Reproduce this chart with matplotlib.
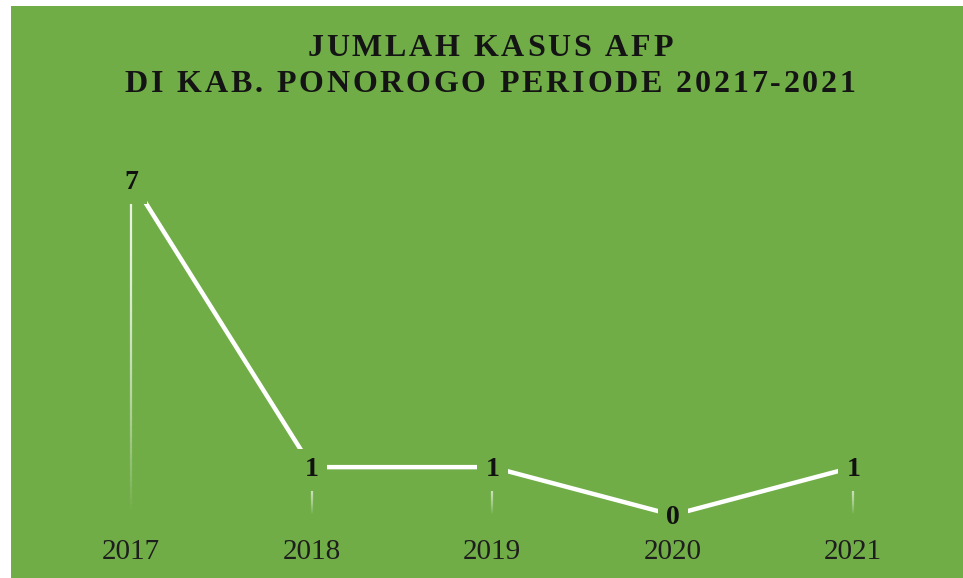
import matplotlib.pyplot as plt
import numpy as np
from matplotlib.collections import LineCollection
from matplotlib.patches import Rectangle

# data
tahun = ['2017', '2018', '2019', '2020', '2021']
kasus = [7, 1, 1, 0, 1]
judul = ['JUMLAH KASUS AFP', 'DI KAB. PONOROGO PERIODE 20217-2021']

hijau = '#70AD47'
serif = ['Liberation Serif', 'DejaVu Serif']
W, H = 963, 578

fig = plt.figure(figsize=(W / 100, H / 100), dpi=100, facecolor='white')
fig.patches.append(Rectangle((11 / W, 0), 1, 572 / H, transform=fig.transFigure,
                             facecolor=hijau, edgecolor='none', zorder=-5))

ax = fig.add_axes([41 / W, 63 / H, 902.5 / W, 335 / H])
ax.set_facecolor('none')
x = np.arange(len(tahun))
ax.set_xlim(-0.5, len(tahun) - 0.5)
ax.set_ylim(0, 7)

# garis bantu vertikal yang memudar ke bawah
n = 60
for xi, v in zip(x, kasus):
    if v <= 0:
        continue
    ys = np.linspace(v, 0, n + 1)
    segs = [[(xi, ys[i]), (xi, ys[i + 1])] for i in range(n)]
    alphas = 0.85 * (1 - np.linspace(0, 1, n) ** 2)
    cols = [(1, 1, 1, a) for a in alphas]
    ax.add_collection(LineCollection(segs, colors=cols, linewidths=1.6, zorder=2))

ax.plot(x, kasus, color='white', lw=3.2, solid_capstyle='butt', zorder=3, clip_on=False)

for xi, v in zip(x, kasus):
    ax.annotate(str(v), (xi, v), xytext=(0, -2), textcoords='offset points',
                ha='center', va='center', fontsize=20, fontweight='bold',
                family=serif, color='#111111', zorder=5, annotation_clip=False,
                bbox=dict(boxstyle='square,pad=0.3', facecolor=hijau, edgecolor='none'))

ax.set_xticks(x)
ax.set_xticklabels(tahun, family=serif, fontsize=21, color='#1e1e1e')
ax.tick_params(axis='x', length=0, pad=17)
ax.set_yticks([])
for s in ax.spines.values():
    s.set_visible(False)

# judul dengan jarak antar huruf
renderer = fig.canvas.get_renderer()
spasi = 2.8
for baris, yc in zip(judul, [48, 85]):
    teks = []
    lebar = []
    for ch in baris:
        t = fig.text(0, 1 - yc / H, ch, ha='left', va='center', fontsize=23,
                     fontweight='bold', family=serif, color='#141414')
        if ch == ' ':
            w = 8.0
        else:
            w = t.get_window_extent(renderer).width
        teks.append(t)
        lebar.append(w)
    total = sum(lebar) + spasi * (len(baris) - 1)
    xp = 490 - total / 2
    for t, w in zip(teks, lebar):
        t.set_x(xp / W)
        xp += w + spasi

fig.savefig('out.png', dpi=100, facecolor='white')
